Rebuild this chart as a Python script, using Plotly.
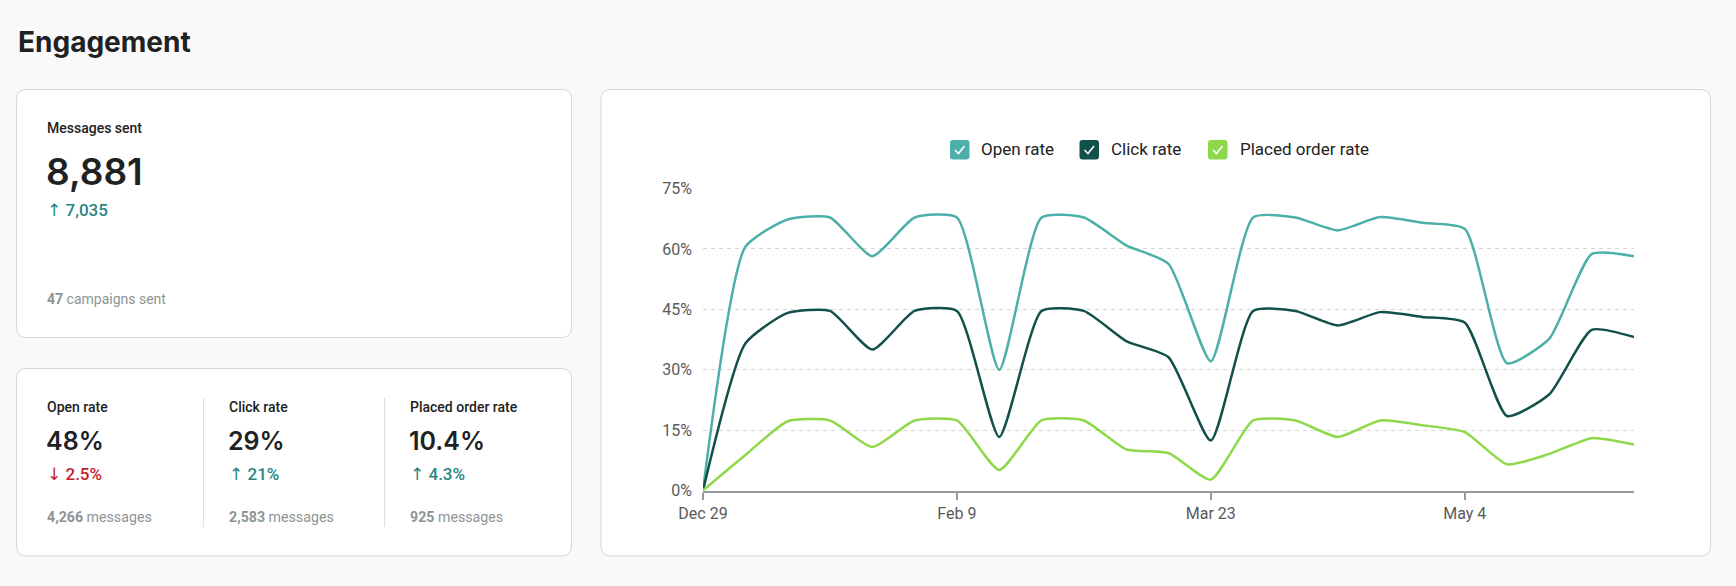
import plotly.graph_objects as go

W, H = 1736, 586

# ---------------- data ----------------
dates = ['2024-12-29', '2025-01-05', '2025-01-12', '2025-01-19', '2025-01-26', '2025-02-02',
         '2025-02-09', '2025-02-16', '2025-02-23', '2025-03-02', '2025-03-09', '2025-03-16',
         '2025-03-23', '2025-03-30', '2025-04-06', '2025-04-13', '2025-04-20', '2025-04-27',
         '2025-05-04', '2025-05-11', '2025-05-18', '2025-05-25', '2025-06-01']
open_rate = [0, 60.5, 67.3, 67.8, 58.2, 67.8, 67.8, 30.0, 67.8, 67.8, 60.9, 56.3,
             32.1, 67.8, 67.8, 64.6, 67.9, 66.5, 65.0, 31.6, 37.7, 58.7, 58.2]
click_rate = [0, 36.5, 44.1, 44.6, 35.0, 44.6, 44.6, 13.3, 44.6, 44.6, 37.1, 33.1,
              12.4, 44.6, 44.6, 41.0, 44.3, 43.1, 41.7, 18.5, 23.9, 39.9, 38.1]
placed_order_rate = [0, 8.8, 17.2, 17.4, 10.8, 17.4, 17.4, 5.1, 17.4, 17.4, 10.2, 9.3,
                     2.7, 17.4, 17.4, 13.3, 17.4, 16.2, 14.5, 6.5, 9.1, 13.0, 11.4]

series_names = ['Open rate', 'Click rate', 'Placed order rate']
series_colors = ['#4DB0A8', '#12504A', '#8ED94A']

tick_dates = ['2024-12-29', '2025-02-09', '2025-03-23', '2025-05-04']
tick_labels = ['Dec 29', 'Feb 9', 'Mar 23', 'May 4']
y_ticks = [0, 15, 30, 45, 60, 75]

kpi_labels = ['Open rate', 'Click rate', 'Placed order rate']
kpi_values = ['48%', '29%', '10.4%']
kpi_changes = ['2.5%', '21%', '4.3%']
kpi_change_up = [False, True, True]
kpi_messages = ['4,266', '2,583', '925']

messages_sent = '8,881'
messages_change = '7,035'
campaigns_sent = '47'

# ---------------- helpers ----------------
def px(x):
    return x / W

def py(y):
    return 1 - y / H

def rrect_path(x0, y0, x1, y1, r):
    pts = [
        ('M', [(x0 + r, y0)]),
        ('L', [(x1 - r, y0)]),
        ('Q', [(x1, y0), (x1, y0 + r)]),
        ('L', [(x1, y1 - r)]),
        ('Q', [(x1, y1), (x1 - r, y1)]),
        ('L', [(x0 + r, y1)]),
        ('Q', [(x0, y1), (x0, y1 - r)]),
        ('L', [(x0, y0 + r)]),
        ('Q', [(x0, y0), (x0 + r, y0)]),
    ]
    s = ''
    for cmd, ps in pts:
        s += cmd + ' ' + ' '.join(f'{px(a):.6f},{py(b):.6f}' for a, b in ps) + ' '
    return s + 'Z'

BG = '#F8F9F8'
CARD_BORDER = '#D3D8D7'
DARK = '#1E2222'
GREY = '#8D9494'
TEAL_TXT = '#2A857F'
RED_TXT = '#C41E2A'
FONT = 'Roboto'
ARROW = '<span style="font-family:DejaVu Sans">{}</span>'

fig = go.Figure()

y_data = [open_rate, click_rate, placed_order_rate]
for name, color, ys in zip(series_names, series_colors, y_data):
    fig.add_trace(go.Scatter(
        x=dates, y=ys, name=name, mode='lines',
        line=dict(color=color, width=2.5, shape='spline', smoothing=0.55),
        showlegend=False, hoverinfo='skip'))

shapes = []
# cards
for (x0, y0, x1, y1) in [(16.5, 89.5, 571.5, 337.5), (16.5, 368.5, 571.5, 556), (601, 89.5, 1710.5, 556)]:
    shapes.append(dict(type='path', path=rrect_path(x0, y0, x1, y1, 10), xref='paper', yref='paper',
                       fillcolor='#FFFFFF', line=dict(color=CARD_BORDER, width=1), layer='below'))
# dividers in kpi card
for xd in [203.6, 384.6]:
    shapes.append(dict(type='line', xref='paper', yref='paper', x0=px(xd), x1=px(xd), y0=py(398), y1=py(527),
                       line=dict(color='#D8DCDB', width=1)))

annotations = []
def text(x, y, s, size, color, weight=400, family=FONT, anchor='left'):
    annotations.append(dict(x=px(x), y=py(y), xref='paper', yref='paper', text=s, showarrow=False,
                            xanchor=anchor, yanchor='middle',
                            font=dict(family=family, size=size, color=color, weight=weight)))

text(16, 42, 'Engagement', 28, DARK, 700, family='Inter')

text(45, 128, 'Messages sent', 14, DARK, 500)
text(44, 171, messages_sent, 37, DARK, 600, family='Inter')
text(45, 210, ARROW.format('↑') + ' ' + messages_change, 17, TEAL_TXT, 500)
text(45, 299, f'<b>{campaigns_sent}</b> campaigns sent', 14, GREY, 400)

col_x = [45, 226.5, 408]
for i in range(3):
    text(col_x[i], 407, kpi_labels[i], 14, DARK, 500)
    text(col_x[i] - 1, 440.5, kpi_values[i], 25, DARK, 600, family='Inter')
    arrow = '↑' if kpi_change_up[i] else '↓'
    text(col_x[i], 474, ARROW.format(arrow) + ' ' + kpi_changes[i], 17, TEAL_TXT if kpi_change_up[i] else RED_TXT, 500)
    text(col_x[i], 517, f'<b>{kpi_messages[i]}</b> messages', 14.2, GREY, 400)

# custom legend with checkboxes
legend_boxes = [950, 1079.5, 1208]
legend_text_x = [978.5, 1108.5, 1237.5]
for i in range(3):
    bx = legend_boxes[i]
    by0, by1 = 140, 159.5
    shapes.append(dict(type='path', path=rrect_path(bx, by0, bx + 19.5, by1, 3), xref='paper', yref='paper',
                       fillcolor=series_colors[i], line=dict(width=0)))
    chk = f'M {px(bx+5):.6f},{py(150):.6f} L {px(bx+8.5):.6f},{py(153.5):.6f} L {px(bx+14.5):.6f},{py(146):.6f}'
    shapes.append(dict(type='path', path=chk, xref='paper', yref='paper',
                       line=dict(color='#FFFFFF', width=1.6)))
    text(legend_text_x[i], 149.5, series_names[i], 17, '#222222', 400)

fig.update_layout(
    width=W, height=H, autosize=False,
    margin=dict(l=0, r=0, t=0, b=0, pad=0, autoexpand=False),
    paper_bgcolor=BG, plot_bgcolor='rgba(0,0,0,0)',
    shapes=shapes, annotations=annotations,
    showlegend=False,
    xaxis=dict(
        domain=[px(703), px(1634)],
        type='date', range=[dates[0], dates[-1]],
        tickmode='array', tickvals=tick_dates, ticktext=tick_labels,
        showgrid=False, zeroline=False, automargin=False,
        showline=True, linecolor='#9A9A9A', linewidth=2,
        ticks='outside', ticklen=7, tickwidth=1.5, tickcolor='#9A9A9A',
        tickfont=dict(family=FONT, size=16, color='#5A5A5A'),
        fixedrange=True,
    ),
    yaxis=dict(
        domain=[py(490.5), py(188.5)],
        range=[0, 75], automargin=False,
        tickmode='array', tickvals=y_ticks, ticktext=[f'{v}%' for v in y_ticks],
        showgrid=True, gridcolor='#D6D6D6', gridwidth=1, griddash='4px,4px',
        zeroline=False, showline=False, ticks='',
        ticklabelstandoff=10,
        tickfont=dict(family=FONT, size=16, color='#5A5A5A'),
        fixedrange=True,
    ),
)

fig.write_html('out.html', config={'responsive': False, 'displayModeBar': False})
